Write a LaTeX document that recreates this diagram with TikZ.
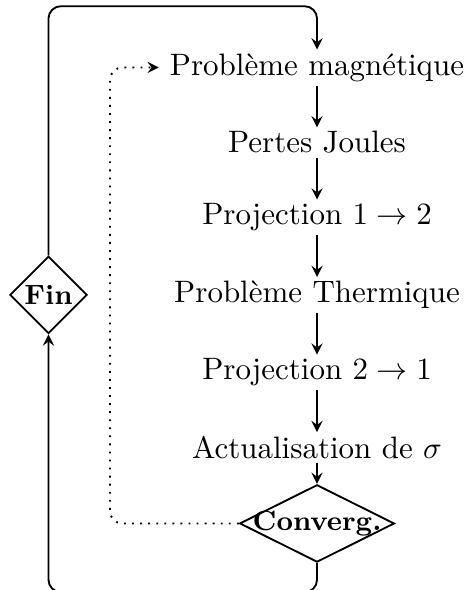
\documentclass[tikz,border=0pt]{standalone}
\usepackage{fontspec}
\usepackage{amsmath,amssymb}
\usetikzlibrary{positioning,shapes.geometric}

\begin{document}
\begin{tikzpicture}[>=stealth, semithick, node distance=0.475cm,
  etape/.style={inner xsep=3.33pt, inner ysep=1pt},
  test/.style={diamond, draw, font=\small\bfseries, inner sep=0.8pt},
  boucle/.style={->, rounded corners}]
  \useasboundingbox (-3.595,0.765) rectangle (1.724,-5.925);
  % main chain
  \node[etape] (mag) at (0,0) {Problème magnétique};
  \node[etape, below=of mag] (joule) {Pertes Joules};
  \node[etape, below=of joule] (proj12) {Projection $1 \rightarrow 2$};
  \node[etape, below=of proj12] (therm) {Problème Thermique};
  \node[etape, below=of therm] (proj21) {Projection $2 \rightarrow 1$};
  \node[etape, below=of proj21] (sigma) {Actualisation de $\sigma$};
  % tests
  \node[test, aspect=2, inner sep=-1.3pt, below=0.24cm of sigma] (conv) {Converg.};
  \node[test, left=0.85cm of therm] (fin) {Fin};
  \foreach \a/\b in {mag/joule, joule/proj12, proj12/therm, therm/proj21, proj21/sigma, sigma/conv}
    \draw[->] (\a) -- (\b);
  % outer loop
  \coordinate (haut) at ([yshift=0.49cm]mag.north);
  \coordinate (bas) at ([yshift=-0.33cm]conv.south);
  \draw[boucle] (fin.north) |- (haut) -- (mag.north);
  \draw[boucle] (conv.south) -- (bas) -| (fin.south);
  % back to start if not converged
  \coordinate (retour) at ([xshift=-1.46cm]conv.west);
  \draw[->, dotted, rounded corners] (conv.west) -- (retour) |- (mag.west);
\end{tikzpicture}
\end{document}
